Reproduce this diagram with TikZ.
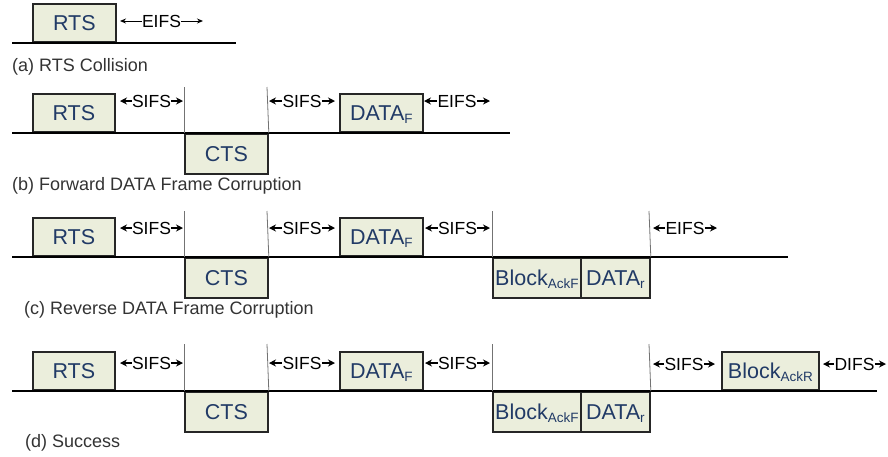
\documentclass[tikz,border=0pt]{standalone}
\usepackage{fontspec}
\setmainfont{Liberation Sans}
\usetikzlibrary{arrows.meta}
\definecolor{framefill}{HTML}{EBEEDC}
\definecolor{frameink}{HTML}{213A66}
\definecolor{capink}{HTML}{333333}
% lowered small index inside a frame label
\newcommand\lowidx[1]{\raisebox{-2.5pt}{\fontsize{13.5}{13.5}\selectfont #1}}
% interframe space: text with an arrow out to each end
\newcommand\gapmark[5]{%
  \coordinate (#1l) at (#2,#4);
  \coordinate (#1r) at (#3,#4);
  \node[gap] (#1) at ({(#2+#3)/2},#4) {#5};
  \draw[gaparrow] (#1.west) -- (#1l);
  \draw[gaparrow] (#1.east) -- (#1r);}
\begin{document}
\begin{tikzpicture}[x=1pt,y=-1pt,
  frame/.style={draw=black!85, line width=1.8pt, fill=framefill, text=frameink,
    font=\fontsize{21.5}{23}\selectfont, inner sep=0pt, text height=15.5pt, text depth=0pt},
  up/.style={frame, minimum height=38pt, anchor=south west},
  down/.style={frame, minimum height=40pt, anchor=north west},
  medium/.style={line width=2.6pt, black},
  tick/.style={line width=0.8pt, black!55},
  gap/.style={font=\fontsize{17.5}{19}\selectfont, inner sep=0.3pt, text height=12.5pt, text depth=0pt},
  gaparrow/.style={line width=1.3pt, -{Stealth[length=7pt,width=7pt]}},
  thinarrow/.style={line width=1pt, -{Stealth[length=6pt,width=5pt]}},
  caption/.style={font=\fontsize{18}{20}\selectfont, text=capink, anchor=west, inner sep=0pt},
]
\useasboundingbox (0,0) rectangle (888,456);

% ---------- (a) RTS collision ----------
\node[up, minimum width=83pt] (aRTS) at (32,43) {RTS};
\coordinate (a0) at (12,43); \coordinate (a1) at (236,43);
\draw[medium] (a0) -- (a1);
\coordinate (aEl) at (120,21); \coordinate (aEr) at (203,21);
\node[gap] (aE) at (161.5,21) {EIFS};
\draw[thinarrow] (aE.west) -- (aEl);
\draw[thinarrow] (aE.east) -- (aEr);
\node[caption] (aCap) at (12,67) {(a) RTS Collision};

% ---------- (b) forward DATA frame corruption ----------
\node[up, minimum width=82pt] (bRTS) at (32,133) {RTS};
\node[down, minimum width=83pt] (bCTS) at (184,133) {CTS};
\node[up, minimum width=83pt] (bDF) at (339,133) {DATA\lowidx{F}};
\coordinate (b0) at (12,133); \coordinate (b1) at (510,133);
\draw[medium] (b0) -- (b1);
\coordinate (bt1) at (184,87); \coordinate (bt2) at (267,87);
\draw[tick] (bCTS.north west) -- (bt1);
\draw[tick] (bCTS.north east) -- (bt2);
\gapmark{bS1}{120}{183}{101}{SIFS}
\gapmark{bS2}{269}{335}{101}{SIFS}
\gapmark{bE}{424}{490}{101}{EIFS}
\node[caption] (bCap) at (12,186) {(b) Forward DATA Frame Corruption};

% ---------- (c) reverse DATA frame corruption ----------
\node[up, minimum width=82pt] (cRTS) at (32,257) {RTS};
\node[down, minimum width=83pt] (cCTS) at (184,257) {CTS};
\node[up, minimum width=83pt] (cDF) at (339,257) {DATA\lowidx{F}};
\node[down, minimum width=88pt] (cBlk) at (492,257) {Block\lowidx{AckF}};
\node[down, minimum width=69pt] (cDr) at (580,257) {DATA\lowidx{r}};
\coordinate (c0) at (12,257); \coordinate (c1) at (788,257);
\draw[medium] (c0) -- (c1);
\coordinate (ct1) at (184,211); \coordinate (ct2) at (267,211);
\coordinate (ct3) at (492,211); \coordinate (ct4) at (649,211);
\draw[tick] (cCTS.north west) -- (ct1);
\draw[tick] (cCTS.north east) -- (ct2);
\draw[tick] (cBlk.north west) -- (ct3);
\draw[tick] (cDr.north east) -- (ct4);
\gapmark{cS1}{120}{183}{228}{SIFS}
\gapmark{cS2}{269}{335}{228}{SIFS}
\gapmark{cS3}{425}{490}{228}{SIFS}
\gapmark{cE}{653}{717}{228}{EIFS}
\node[caption] (cCap) at (24,310) {(c) Reverse DATA Frame Corruption};

% ---------- (d) success ----------
\node[up, minimum width=82pt] (dRTS) at (32,391) {RTS};
\node[down, minimum width=83pt] (dCTS) at (184,391) {CTS};
\node[up, minimum width=83pt] (dDF) at (339,391) {DATA\lowidx{F}};
\node[down, minimum width=88pt] (dBlk) at (492,391) {Block\lowidx{AckF}};
\node[down, minimum width=69pt] (dDr) at (580,391) {DATA\lowidx{r}};
\node[up, minimum width=97pt] (dAR) at (721,391) {Block\lowidx{AckR}};
\coordinate (d0) at (12,391); \coordinate (d1) at (877,391);
\draw[medium] (d0) -- (d1);
\coordinate (dt1) at (184,344); \coordinate (dt2) at (267,344);
\coordinate (dt3) at (492,344); \coordinate (dt4) at (649,344);
\draw[tick] (dCTS.north west) -- (dt1);
\draw[tick] (dCTS.north east) -- (dt2);
\draw[tick] (dBlk.north west) -- (dt3);
\draw[tick] (dDr.north east) -- (dt4);
\gapmark{dS1}{120}{183}{363}{SIFS}
\gapmark{dS2}{269}{335}{363}{SIFS}
\gapmark{dS3}{425}{490}{363}{SIFS}
\gapmark{dS4}{653}{715}{364}{SIFS}
\gapmark{dD}{823}{886}{364}{DIFS}
\node[caption] (dCap) at (25,443) {(d) Success};
\end{tikzpicture}
\end{document}
